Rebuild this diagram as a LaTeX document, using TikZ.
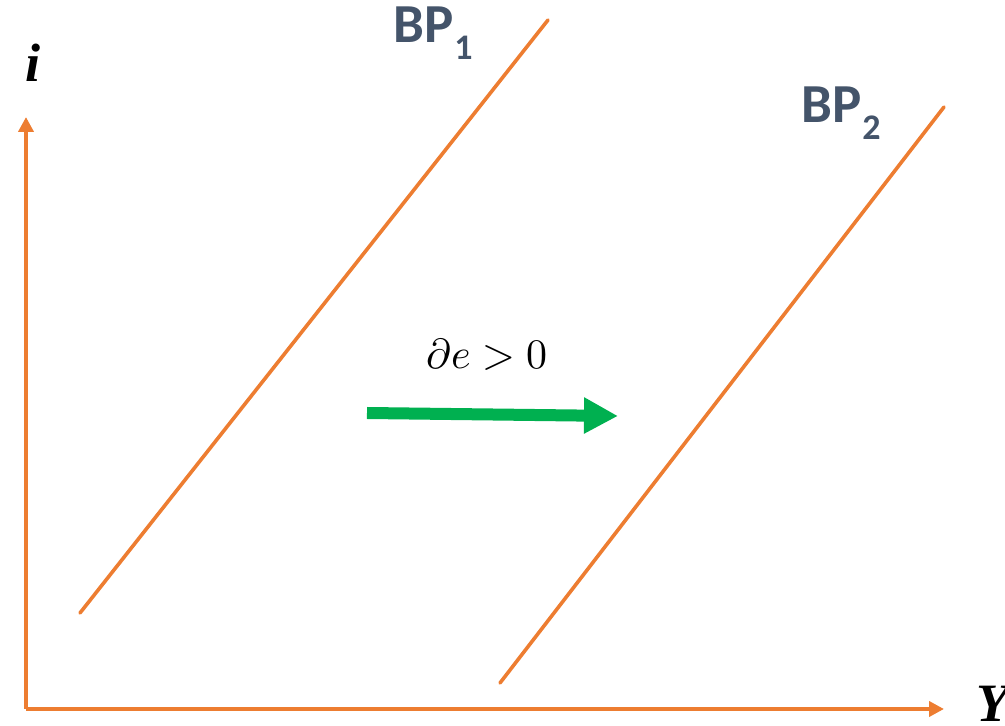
\documentclass[tikz,border=0pt]{standalone}
\usepackage{fontspec}
\usepackage{unicode-math}
\usetikzlibrary{arrows.meta}
\newfontfamily\bpfont{Carlito}
\newfontfamily\axisfont{Liberation Serif}
\definecolor{curveorange}{HTML}{ED7D31}
\definecolor{shiftgreen}{HTML}{00B050}
\definecolor{labelslate}{HTML}{44546A}
\tikzset{every path/.style={line cap=round},
  axis/.style={curveorange, line width=4.2pt, -{Triangle[length=15pt,width=15pt]}},
  curve/.style={curveorange, line width=3.6pt},
  curvename/.style={labelslate, anchor=base west, font=\bpfont\bfseries\fontsize{55}{60}\selectfont},
  axisname/.style={font=\axisfont\bfseries\itshape\fontsize{54}{60}\selectfont}}
\newcommand{\bpsub}[1]{\kern1pt\raisebox{-17pt}{\fontsize{36}{40}\selectfont #1}}

\begin{document}
\begin{tikzpicture}[x=1pt,y=1pt]
    \useasboundingbox (0,0) rectangle (1005,726);

    \coordinate (O) at (26,17);
    \coordinate (ytop) at (26,609);
    \coordinate (xend) at (944,17);

    \draw[axis, line cap=butt] (O) -- (ytop);
    \draw[axis, line cap=butt] (O) -- (xend);

    \node[axisname] (ilabel) at (33,663) {i};
    \node[axisname, anchor=west] (Ylabel) at (973,22) {Y};

    \coordinate (bp1a) at (80,113);
    \coordinate (bp1b) at (548,706);
    \coordinate (bp2a) at (500,43);
    \coordinate (bp2b) at (944,619);

    \draw[curve] (bp1a) -- (bp1b);
    \draw[curve] (bp2a) -- (bp2b);

    \node[curvename, inner sep=0] (bp1name) at (393,683) {BP\bpsub{1}};
    \node[curvename, inner sep=0] (bp2name) at (801,603) {BP\bpsub{2}};

    \coordinate (shiftfrom) at (367,313);
    \coordinate (shiftto) at (618,310);
    \draw[shiftgreen, line width=12pt, line cap=butt, -{Triangle[length=34pt,width=34pt]}] (shiftfrom) -- (shiftto);

    \node[font=\fontsize{42}{48}\selectfont] (shiftlabel) at (487,371) {$\partial e > 0$};
  \end{tikzpicture}
\end{document}
